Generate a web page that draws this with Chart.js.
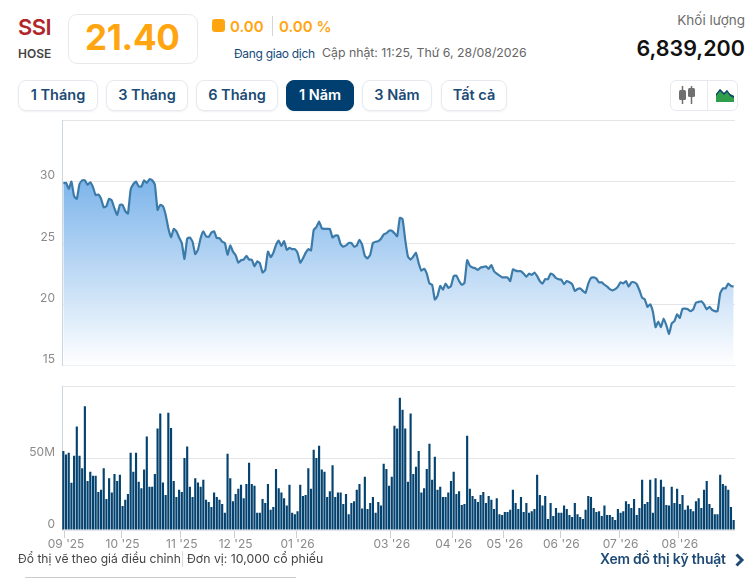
<!DOCTYPE html>
<html lang="vi">
<head>
<meta charset="utf-8">
<title>SSI</title>
<script src="https://cdn.jsdelivr.net/npm/chart.js@4"></script>
<style>
html,body{margin:0;padding:0;background:#fff;}
body{width:753px;height:579px;position:relative;overflow:hidden;font-family:Inter,Roboto,sans-serif;}
.t{position:absolute;white-space:nowrap;line-height:1;}
.btn{position:absolute;top:80px;height:29px;line-height:27px;text-align:center;border:1px solid #e6eaee;border-radius:8px;font-size:14.5px;font-weight:600;color:#1b4b75;box-shadow:0 1px 2px rgba(0,0,0,.06);box-sizing:content-box;}
.btn.active{background:#003f6f;color:#fff;border-color:#003f6f;}
canvas{position:absolute;left:0;}
</style>
</head>
<body>
<div class="t" style="left:18px;top:16px;font-size:22px;font-weight:600;color:#b1262b;letter-spacing:-.5px">SSI</div>
<div class="t" style="left:18px;top:48px;font-size:12px;font-weight:600;color:#444">HOSE</div>
<div style="position:absolute;left:68px;top:14px;width:128px;height:48px;border:1px solid #e6e9ec;border-radius:9px"></div>
<div class="t" style="left:85px;top:20px;font-size:35px;font-weight:700;color:#ffa50f;letter-spacing:-.3px">21.40</div>
<div style="position:absolute;left:212px;top:19px;width:13px;height:13px;border-radius:3px;background:#ffa50f"></div>
<div class="t" style="left:230px;top:19px;font-size:15px;font-weight:600;color:#ffa50f">0.00</div>
<div style="position:absolute;left:272px;top:16px;width:1px;height:20px;background:#d5d5d5"></div>
<div class="t" style="left:279px;top:19px;font-size:15px;font-weight:600;color:#ffa50f">0.00 %</div>
<div class="t" style="left:234px;top:48px;font-size:12px;color:#134b7b;letter-spacing:-.3px">Đang giao dịch</div>
<div class="t" style="left:322px;top:47px;font-size:12.3px;color:#666">Cập nhật: 11:25, Thứ 6, 28/08/2026</div>
<div class="t" style="right:8px;top:14px;font-size:13.5px;color:#6d6d6d">Khối lượng</div>
<div class="t" style="right:8px;top:38px;font-size:21.5px;font-weight:600;color:#111">6,839,200</div>

<div class="btn" style="left:18px;width:78px">1 Tháng</div>
<div class="btn" style="left:106px;width:80px">3 Tháng</div>
<div class="btn" style="left:196px;width:80px">6 Tháng</div>
<div class="btn active" style="left:286px;width:66px">1 Năm</div>
<div class="btn" style="left:362px;width:68px">3 Năm</div>
<div class="btn" style="left:441px;width:64px">Tất cả</div>

<div style="position:absolute;left:670px;top:80px;width:66px;height:29px;border:1px solid #e6eaee;border-radius:6px"></div>
<div style="position:absolute;left:707px;top:80px;width:1px;height:30px;background:#e6eaee"></div>
<svg style="position:absolute;left:678px;top:85px" width="18" height="20" viewBox="0 0 18 20">
<path d="M4.5 1v18M13.5 1v18" stroke="#6f6f6f" stroke-width="1.5"/>
<rect x="1" y="5" width="7" height="10" rx="1.5" fill="#6f6f6f"/><rect x="10" y="3" width="7" height="9" rx="1.5" fill="#6f6f6f"/>
</svg>
<svg style="position:absolute;left:716px;top:87px" width="18" height="16" viewBox="0 0 18 16">
<path d="M0 15V7L4 2L8 6L11 3L14 7L18 9V15Z" fill="#2e9e4a"/>
<path d="M0 7L4 2L8 6L11 3L14 7L18 9V11L14 9L11 5L8 8L4 4L0 9Z" fill="#12416b"/>
</svg>

<canvas id="priceChart" style="top:106px" width="753" height="274"></canvas>
<canvas id="volumeChart" style="top:372px" width="753" height="188"></canvas>

<div class="t" style="left:18px;top:553px;font-size:12.1px;color:#444">Đổ thị vẽ theo giá điều chỉnh</div>
<div style="position:absolute;left:182px;top:551px;width:1px;height:16px;background:#ddd"></div>
<div class="t" style="left:187px;top:553px;font-size:12.3px;color:#444">Đơn vị: 10,000 cổ phiếu</div>
<div class="t" style="left:600px;top:553px;font-size:13.9px;font-weight:600;color:#1d4a74;letter-spacing:-.2px">Xem đồ thị kỹ thuật</div>
<svg style="position:absolute;left:734px;top:553px" width="11" height="14" viewBox="0 0 11 14"><path d="M2.5 1.5L8 7L2.5 12.5" fill="none" stroke="#1d4a74" stroke-width="3"/></svg>
<div style="position:absolute;left:25px;top:577px;width:271px;height:1px;background:#ccc"></div>

<script>
// ---------------- DATA ----------------
const prices=[
29.87,29.9,29.4,30,28.8,28.6,29.8,30.1,30.1,29.75,29.95,29.55,28.9,28.95,28.6,27.9,28,28.6,28.45,27.8,
27.3,28.1,28.1,27.6,27.4,29.35,29.8,30,29.6,29.6,30.1,29.9,30.2,30.1,29.75,27.7,28.1,28,27.3,26.2,
25.45,26.15,25.95,25.45,25,23.7,25.35,25.45,25.1,24.1,24.45,25.4,25.95,25.55,25.5,25.85,25.95,25.4,25.4,25.1,
25,24.05,24.8,24.3,24,23.4,23.6,23.65,23.95,23.65,23.65,23.1,23.5,23.35,22.6,22.8,24.3,
23.85,24.2,24.85,25.2,24.75,25.15,24.45,24.6,24.5,24.5,24.2,23.4,23.75,24.2,24.5,24.4,26.05,26.3,26.75,26.2,
26.15,26.15,26.15,25.45,25.6,25.6,24.9,24.7,24.8,25,25,24.7,24.8,25.25,24.85,23.95,23.75,24.05,25,25.1,
25.15,25.35,25.7,25.8,26,26,25.8,25.55,27.05,26.95,25.25,23.9,23.65,23.9,24.2,23.35,22.75,22.9,22.5,21.7,
21.6,20.4,20.7,21.5,21.2,21.7,21.35,21.5,22.3,22.35,21.9,21.6,21.75,23.6,23.15,23,22.95,22.8,23,23.05,
23.1,22.9,23.2,22.7,22.5,22.35,
22.2,22.2,22.2,21.9,22.85,22.75,22.7,22.7,22.5,22.25,22.5,22.4,22.6,22.3,21.9,21.7,22.05,22.05,22.5,22.4,
22.15,22.05,22,21.65,21.9,21.8,21.65,21.1,21.25,21.3,21.1,20.95,21.7,22.15,22.2,22.1,21.8,21.8,21.6,21.45,
21.25,21.15,21.25,21.45,21.8,21.7,21.9,21.45,21.8,21.8,21.65,21.15,20.55,20.4,19.8,20,19.4,18.15,18.6,18.15,
18.85,18.3,17.6,18.45,18.65,19.2,18.9,19.65,19.65,19.6,19.45,19.6,20.15,20.2,20.25,20,19.6,19.8,19.55,19.45,
19.45,20.9,21.3,21.3,21.7,21.5,21.45
];
// volume in millions
const volumes=[
55,52.5,53.7,32.8,51.6,72,51.6,43,86,34,
40.5,37.7,37.7,26.5,28,43,21.6,36,26,39,
34,38.4,16.7,21,25,53.7,40.5,53.7,33.5,29,
42,65,30,30,39,70.5,81,33,24.4,81.6,
71,34,23,28,26.5,50,58,30,23,36,
33,30,35,21,19.5,16,26,23,21,18,
12,53,36,20,25,28.6,31.4,22,32,46.7,
32,30.7,12,12,21.6,18.8,32,14,16,42.5,
29,26,22,17,31.4,12,11,13,31.4,23.7,
24.4,43,28.6,55.8,50,58.6,42,40.5,23,27,
45,23,26,26,18,25,11,18.8,20,28,
32,15,37,14.6,18.8,23,12,19.5,17,46,
42.5,30.7,37,72.5,70.5,92,83.7,70.5,33.5,81,
39,44,55,26,29,42.5,60,35,51,28,
30,23,23,26,34,40.5,25,27,17.4,18,
65.6,28.6,23.7,21.6,19.5,24.4,26.5,18.8,23.7,21,
14.6,22,11,10.5,12.5,12.5,14,28,18.8,14.6,
23,12.5,18.8,12,13,14.6,38.4,24.4,17,23.7,
7.7,18.8,9.8,15.3,12,12,17,14.6,10.5,9,
18.8,11,9,7.7,14,23.7,23,15.3,12.5,13,
9.8,17,10.5,10.5,9,7,14.6,12,13,20,
18,15.3,21.6,10.5,15.3,35,18,19.5,35,12,
36,23,35,30,17.4,17,30,18.8,28.6,18,
24.4,14,17,14.6,13,20,22,15.3,28,34,
18,15.3,11,11,38.4,32,30.7,28,16,7
];
const monthLabels=["09 '25","10 '25","11 '25","12 '25","01 '26","03 '26","04 '26","05 '26","06 '26","07 '26","08 '26"];
const monthSessions=[1,22,44,64,87,122,145,164,185,207,229];
const sessions=volumes.map((_,i)=>i);

// ---------------- SHARED ----------------
const tickFont={family:"Inter,Roboto,sans-serif",size:12};
const tickGrey="#8a8a8a", gridGrey="#e4e6e9", axisGrey="#ccd6df";
function fixedY(scale){scale.width=62;}
const noPlugins={legend:{display:false},tooltip:{enabled:false}};

// ---------------- PRICE ----------------
new Chart(document.getElementById("priceChart"),{
  type:"line",
  data:{
    labels:sessions,
    datasets:[{
      data:prices,
      borderColor:"#3c7ba9",
      borderWidth:2.2,
      pointRadius:0,
      tension:0.15,
      fill:true,
      backgroundColor:c=>{
        const a=c.chart.chartArea;
        if(!a) return "transparent";
        const g=c.chart.ctx.createLinearGradient(0,a.top+55,0,a.bottom);
        g.addColorStop(0,"#7ab3ea");
        g.addColorStop(1,"rgba(255,255,255,1)");
        return g;
      }
    }]
  },
  options:{
    responsive:false,
    animation:false,
    layout:{padding:{right:18}},
    plugins:noPlugins,
    scales:{
      x:{display:false,offset:true},
      y:{
        min:15,max:35,
        afterFit:fixedY,
        border:{color:axisGrey},
        grid:{color:gridGrey,drawTicks:false},
        ticks:{stepSize:5,padding:7,labelOffset:-6,color:tickGrey,font:tickFont,callback:v=>v==35?"":v}
      }
    }
  }
});

// ---------------- VOLUME ----------------
new Chart(document.getElementById("volumeChart"),{
  type:"bar",
  data:{
    labels:sessions,
    datasets:[{data:volumes,backgroundColor:"#04426f",barPercentage:1,categoryPercentage:0.8}]
  },
  options:{
    responsive:false,
    animation:false,
    layout:{padding:{right:18}},
    plugins:noPlugins,
    scales:{
      x:{
        afterFit:s=>{s.height=30;},
        border:{display:false},
        grid:{
          drawOnChartArea:false,
          tickLength:8,
          tickColor:c=>monthSessions.includes(c.index)?"#cfcfcf":"transparent"
        },
        ticks:{
          autoSkip:false,maxRotation:0,padding:-1,color:tickGrey,font:tickFont,
          callback:(v,i)=>{const m=monthSessions.indexOf(i);return m<0?"":monthLabels[m];}
        }
      },
      y:{
        min:0,max:100,
        afterFit:fixedY,
        border:{color:axisGrey},
        grid:{color:gridGrey,drawTicks:false},
        ticks:{stepSize:50,padding:7,labelOffset:-6,color:tickGrey,font:tickFont,callback:v=>v==100?"":v==0?"0":v+"M"}
      }
    }
  }
});
</script>
</body>
</html>
